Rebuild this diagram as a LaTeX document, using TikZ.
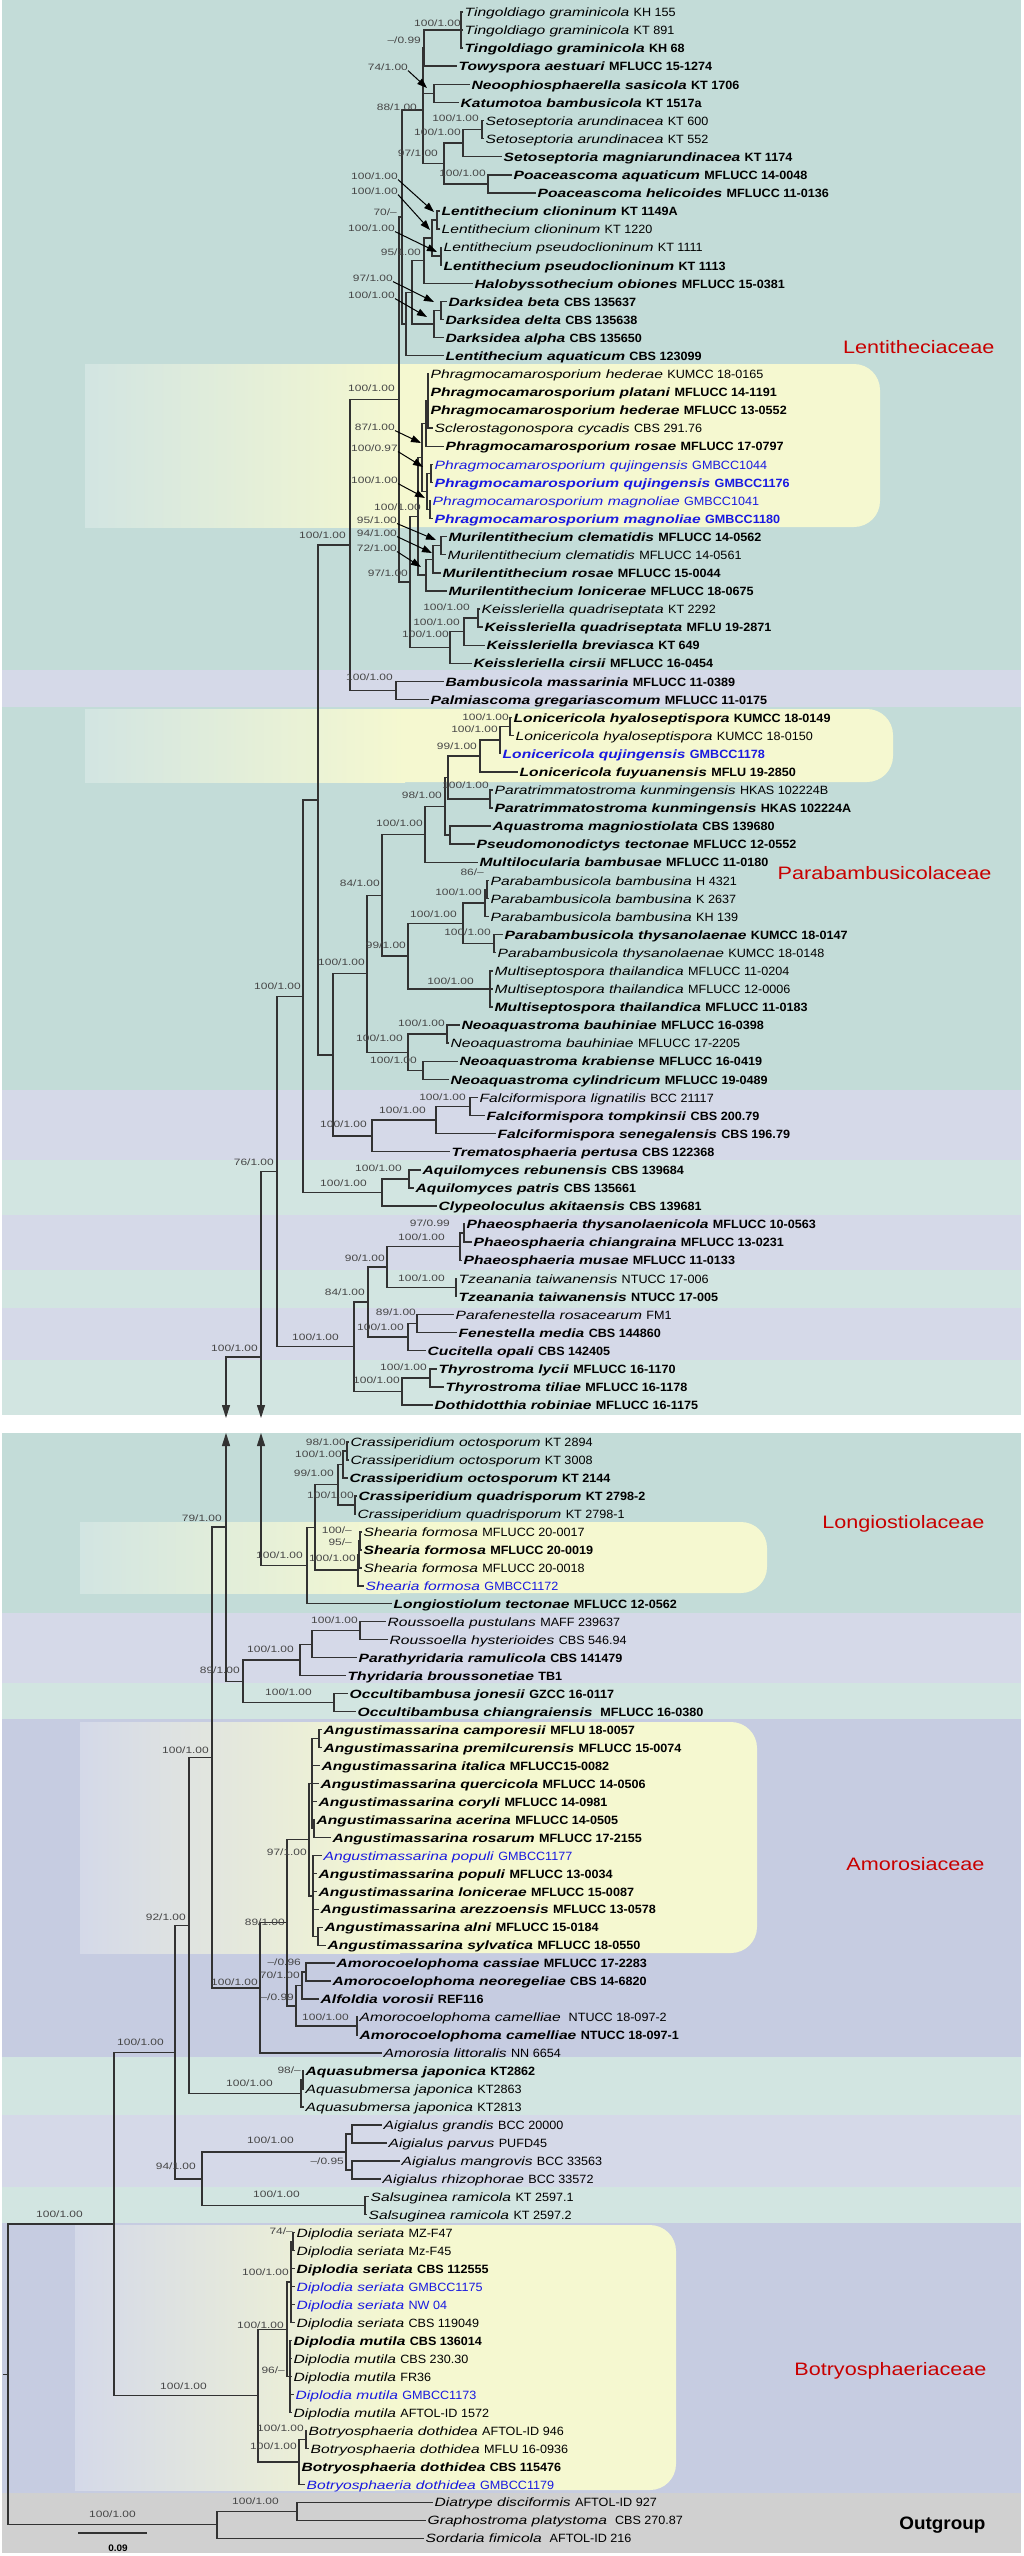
\documentclass[tikz,border=0pt]{standalone}
\usepackage{fontspec}
\setmainfont{Liberation Sans}[FakeStretch=1.3,ItalicFeatures={FakeStretch=1.3},
  BoldFeatures={FakeStretch=1.3},BoldItalicFeatures={FakeStretch=1.3}]
\newfontfamily\strfont{Liberation Sans}[FakeStretch=1.05,BoldFeatures={FakeStretch=1.05}]
\newfontfamily\famfont{Liberation Sans}[FakeStretch=1.2]
\usetikzlibrary{arrows.meta}
\definecolor{bgteal}{RGB}{195,220,216}
\definecolor{bglav}{RGB}{213,217,232}
\definecolor{bgpale}{RGB}{210,229,225}
\definecolor{bgamo}{RGB}{198,204,225}
\definecolor{bggrey}{RGB}{208,208,208}
\definecolor{boxyel}{RGB}{245,248,208}
\definecolor{brgrey}{RGB}{50,50,50}
\definecolor{bstext}{RGB}{70,70,70}
\definecolor{taxblue}{RGB}{25,25,225}
\definecolor{famred}{RGB}{200,0,0}
\newcommand{\tn}[2]{\textit{#1} {\strfont #2}}
\newcommand{\tb}[2]{\textbf{\textit{#1} {\strfont #2}}}
\begin{document}
\begin{tikzpicture}[x=1pt,y=-1pt,
    tx/.style={anchor=west,inner xsep=1.5pt,inner ysep=0pt,text height=11pt,text depth=1.6pt,font=\fontsize{12}{14}\selectfont},
    nw/.style={text=taxblue},
    bs/.style={anchor=east,inner sep=0pt,text=bstext,font=\fontsize{9.2}{10}\selectfont},
    br/.style={line width=1.4pt,draw=brgrey},
    lblarr/.style={line width=1pt,-{Triangle[length=10pt,width=7pt]}},
    gaparr/.style={line width=1.1pt,draw=brgrey,-{Triangle[length=13pt,width=8pt]}},
    fam/.style={anchor=east,text=famred,font=\famfont\fontsize{18}{20}\selectfont}]
  \useasboundingbox (0,0) rectangle (1023,2556);
  % bands
  \foreach \ya/\yb/\bg in {0/670/bgteal, 670/707/bglav, 707/1090/bgteal, 1090/1160/bglav,
      1160/1215/bgpale, 1215/1270/bglav, 1270/1308/bgpale, 1308/1360/bglav, 1360/1415/bgpale,
      1433/1613/bgteal, 1613/1683/bglav, 1683/1719/bgpale, 1719/2057/bgamo, 2057/2115/bgpale,
      2115/2187/bglav, 2187/2223/bgpale, 2223/2493/bgamo, 2493/2553/bggrey}
    \fill[\bg] (2,\ya) rectangle (1021,\yb);
  % highlight boxes
  \foreach \xa/\ya/\xb/\yb/\bg in {85/364/880/527/bgteal, 85/709/893/782/bgteal,
      80/1522/767/1593/bgteal, 80/1722/757/1953/bgamo, 75/2225/676/2490/bgamo} {
    \fill[boxyel, rounded corners=26pt] (\xa,\ya) rectangle (\xb,\yb);
    \fill[left color=\bg!75!white, right color=boxyel] (\xa,\ya) rectangle (\xa+320,\yb);
  }

  % taxa
  \node[tx] (t1) at (463,12) {\tn{Tingoldiago graminicola}{KH 155}};
  \node[tx] (t2) at (463,30) {\tn{Tingoldiago graminicola}{KT 891}};
  \node[tx] (t3) at (463,48) {\tb{Tingoldiago graminicola}{KH 68}};
  \node[tx] (t4) at (457,66) {\tb{Towyspora aestuari}{MFLUCC 15-1274}};
  \node[tx] (t5) at (470,84.4) {\tb{Neoophiosphaerella sasicola}{KT 1706}};
  \node[tx] (t6) at (459,102.5) {\tb{Katumotoa bambusicola}{KT 1517a}};
  \node[tx] (t7) at (484,120.5) {\tn{Setoseptoria arundinacea}{KT 600}};
  \node[tx] (t8) at (484,138.6) {\tn{Setoseptoria arundinacea}{KT 552}};
  \node[tx] (t9) at (502,156.7) {\tb{Setoseptoria magniarundinacea}{KT 1174}};
  \node[tx] (t10) at (512,174.8) {\tb{Poaceascoma aquaticum}{MFLUCC 14-0048}};
  \node[tx] (t11) at (536,192.9) {\tb{Poaceascoma helicoides}{MFLUCC 11-0136}};
  \node[tx] (t12) at (440,211) {\tb{Lentithecium clioninum}{KT 1149A}};
  \node[tx] (t13) at (440,229.1) {\tn{Lentithecium clioninum}{KT 1220}};
  \node[tx] (t14) at (442,247.2) {\tn{Lentithecium pseudoclioninum}{KT 1111}};
  \node[tx] (t15) at (442,265.3) {\tb{Lentithecium pseudoclioninum}{KT 1113}};
  \node[tx] (t16) at (473,283.4) {\tb{Halobyssothecium obiones}{MFLUCC 15-0381}};
  \node[tx] (t17) at (447,301.4) {\tb{Darksidea beta}{CBS 135637}};
  \node[tx] (t18) at (444,319.5) {\tb{Darksidea delta}{CBS 135638}};
  \node[tx] (t19) at (444,337.6) {\tb{Darksidea alpha}{CBS 135650}};
  \node[tx] (t20) at (444,355.7) {\tb{Lentithecium aquaticum}{CBS 123099}};
  \node[tx] (t21) at (429,373.8) {\tn{Phragmocamarosporium hederae}{KUMCC 18-0165}};
  \node[tx] (t22) at (429,391.9) {\tb{Phragmocamarosporium platani}{MFLUCC 14-1191}};
  \node[tx] (t23) at (429,410) {\tb{Phragmocamarosporium hederae}{MFLUCC 13-0552}};
  \node[tx] (t24) at (433,428.1) {\tn{Sclerostagonospora cycadis}{CBS 291.76}};
  \node[tx] (t25) at (444,446.2) {\tb{Phragmocamarosporium rosae}{MFLUCC 17-0797}};
  \node[tx,nw] (t26) at (433,464.3) {\tn{Phragmocamarosporium qujingensis}{GMBCC1044}};
  \node[tx,nw] (t27) at (433,482.3) {\tb{Phragmocamarosporium qujingensis}{GMBCC1176}};
  \node[tx,nw] (t28) at (431,500.4) {\tn{Phragmocamarosporium magnoliae}{GMBCC1041}};
  \node[tx,nw] (t29) at (433,518.5) {\tb{Phragmocamarosporium magnoliae}{GMBCC1180}};
  \node[tx] (t30) at (447,536.6) {\tb{Murilentithecium clematidis}{MFLUCC 14-0562}};
  \node[tx] (t31) at (446,554.7) {\tn{Murilentithecium clematidis}{MFLUCC 14-0561}};
  \node[tx] (t32) at (441,572.8) {\tb{Murilentithecium rosae}{MFLUCC 15-0044}};
  \node[tx] (t33) at (447,590.9) {\tb{Murilentithecium lonicerae}{MFLUCC 18-0675}};
  \node[tx] (t34) at (480,609) {\tn{Keissleriella quadriseptata}{KT 2292}};
  \node[tx] (t35) at (483,627.1) {\tb{Keissleriella quadriseptata}{MFLU 19-2871}};
  \node[tx] (t36) at (485,645.2) {\tb{Keissleriella breviasca}{KT 649}};
  \node[tx] (t37) at (472,663.2) {\tb{Keissleriella cirsii}{MFLUCC 16-0454}};
  \node[tx] (t38) at (444,681.3) {\tb{Bambusicola massarinia}{MFLUCC 11-0389}};
  \node[tx] (t39) at (429,699.4) {\tb{Palmiascoma gregariascomum}{MFLUCC 11-0175}};
  \node[tx] (t40) at (512,717.5) {\tb{Lonicericola hyaloseptispora}{KUMCC 18-0149}};
  \node[tx] (t41) at (514,735.6) {\tn{Lonicericola hyaloseptispora}{KUMCC 18-0150}};
  \node[tx,nw] (t42) at (501,753.7) {\tb{Lonicericola qujingensis}{GMBCC1178}};
  \node[tx] (t43) at (518,771.8) {\tb{Lonicericola fuyuanensis}{MFLU 19-2850}};
  \node[tx] (t44) at (493,789.9) {\tn{Paratrimmatostroma kunmingensis}{HKAS 102224B}};
  \node[tx] (t45) at (493,808) {\tb{Paratrimmatostroma kunmingensis}{HKAS 102224A}};
  \node[tx] (t46) at (491,826.1) {\tb{Aquastroma magniostiolata}{CBS 139680}};
  \node[tx] (t47) at (475,844.1) {\tb{Pseudomonodictys tectonae}{MFLUCC 12-0552}};
  \node[tx] (t48) at (478,862.2) {\tb{Multilocularia bambusae}{MFLUCC 11-0180}};
  \node[tx] (t49) at (489,880.3) {\tn{Parabambusicola bambusina}{H 4321}};
  \node[tx] (t50) at (489,898.4) {\tn{Parabambusicola bambusina}{K 2637}};
  \node[tx] (t51) at (489,916.5) {\tn{Parabambusicola bambusina}{KH 139}};
  \node[tx] (t52) at (503,934.6) {\tb{Parabambusicola thysanolaenae}{KUMCC 18-0147}};
  \node[tx] (t53) at (496,952.7) {\tn{Parabambusicola thysanolaenae}{KUMCC 18-0148}};
  \node[tx] (t54) at (493,970.8) {\tn{Multiseptospora thailandica}{MFLUCC 11-0204}};
  \node[tx] (t55) at (493,988.9) {\tn{Multiseptospora thailandica}{MFLUCC 12-0006}};
  \node[tx] (t56) at (493,1007) {\tb{Multiseptospora thailandica}{MFLUCC 11-0183}};
  \node[tx] (t57) at (460,1025) {\tb{Neoaquastroma bauhiniae}{MFLUCC 16-0398}};
  \node[tx] (t58) at (449,1043.1) {\tn{Neoaquastroma bauhiniae}{MFLUCC 17-2205}};
  \node[tx] (t59) at (458,1061.2) {\tb{Neoaquastroma krabiense}{MFLUCC 16-0419}};
  \node[tx] (t60) at (449,1079.3) {\tb{Neoaquastroma cylindricum}{MFLUCC 19-0489}};
  \node[tx] (t61) at (478,1097.4) {\tn{Falciformispora lignatilis}{BCC 21117}};
  \node[tx] (t62) at (485,1115.5) {\tb{Falciformispora tompkinsii}{CBS 200.79}};
  \node[tx] (t63) at (496,1133.6) {\tb{Falciformispora senegalensis}{CBS 196.79}};
  \node[tx] (t64) at (450,1151.7) {\tb{Trematosphaeria pertusa}{CBS 122368}};
  \node[tx] (t65) at (421,1169.8) {\tb{Aquilomyces rebunensis}{CBS 139684}};
  \node[tx] (t66) at (414,1187.9) {\tb{Aquilomyces patris}{CBS 135661}};
  \node[tx] (t67) at (437,1205.9) {\tb{Clypeoloculus akitaensis}{CBS 139681}};
  \node[tx] (t68) at (465,1224) {\tb{Phaeosphaeria thysanolaenicola}{MFLUCC 10-0563}};
  \node[tx] (t69) at (472,1242.1) {\tb{Phaeosphaeria chiangraina}{MFLUCC 13-0231}};
  \node[tx] (t70) at (462,1260.2) {\tb{Phaeosphaeria musae}{MFLUCC 11-0133}};
  \node[tx] (t71) at (457,1278.3) {\tn{Tzeanania taiwanensis}{NTUCC 17-006}};
  \node[tx] (t72) at (457,1296.4) {\tb{Tzeanania taiwanensis}{NTUCC 17-005}};
  \node[tx] (t73) at (454,1314.5) {\tn{Parafenestella rosacearum}{FM1}};
  \node[tx] (t74) at (457,1332.6) {\tb{Fenestella media}{CBS 144860}};
  \node[tx] (t75) at (426,1350.7) {\tb{Cucitella opali}{CBS 142405}};
  \node[tx] (t76) at (437,1368.8) {\tb{Thyrostroma lycii}{MFLUCC 16-1170}};
  \node[tx] (t77) at (444,1386.8) {\tb{Thyrostroma tiliae}{MFLUCC 16-1178}};
  \node[tx] (t78) at (433,1404.9) {\tb{Dothidotthia robiniae}{MFLUCC 16-1175}};
  \node[tx] (t79) at (349,1442) {\tn{Crassiperidium octosporum}{KT 2894}};
  \node[tx] (t80) at (349,1460) {\tn{Crassiperidium octosporum}{KT 3008}};
  \node[tx] (t81) at (348,1477.9) {\tb{Crassiperidium octosporum}{KT 2144}};
  \node[tx] (t82) at (357,1495.9) {\tb{Crassiperidium quadrisporum}{KT 2798-2}};
  \node[tx] (t83) at (356,1513.9) {\tn{Crassiperidium quadrisporum}{KT 2798-1}};
  \node[tx] (t84) at (362,1531.9) {\tn{Shearia formosa}{MFLUCC 20-0017}};
  \node[tx] (t85) at (362,1549.8) {\tb{Shearia formosa}{MFLUCC 20-0019}};
  \node[tx] (t86) at (362,1567.8) {\tn{Shearia formosa}{MFLUCC 20-0018}};
  \node[tx,nw] (t87) at (364,1585.8) {\tn{Shearia formosa}{GMBCC1172}};
  \node[tx] (t88) at (392,1603.7) {\tb{Longiostiolum tectonae}{MFLUCC 12-0562}};
  \node[tx] (t89) at (386,1621.7) {\tn{Roussoella pustulans}{MAFF 239637}};
  \node[tx] (t90) at (388,1639.7) {\tn{Roussoella hysterioides}{CBS 546.94}};
  \node[tx] (t91) at (357,1657.6) {\tb{Parathyridaria ramulicola}{CBS 141479}};
  \node[tx] (t92) at (346,1675.6) {\tb{Thyridaria broussonetiae}{TB1}};
  \node[tx] (t93) at (348,1693.6) {\tb{Occultibambusa jonesii}{GZCC 16-0117}};
  \node[tx] (t94) at (356,1711.6) {\tb{Occultibambusa chiangraiensis}{\ MFLUCC 16-0380}};
  \node[tx] (t95) at (322,1729.5) {\tb{Angustimassarina camporesii}{MFLU 18-0057}};
  \node[tx] (t96) at (322,1747.5) {\tb{Angustimassarina premilcurensis}{MFLUCC 15-0074}};
  \node[tx] (t97) at (320,1765.5) {\tb{Angustimassarina italica}{MFLUCC15-0082}};
  \node[tx] (t98) at (319,1783.4) {\tb{Angustimassarina quercicola}{MFLUCC 14-0506}};
  \node[tx] (t99) at (317,1801.4) {\tb{Angustimassarina coryli}{MFLUCC 14-0981}};
  \node[tx] (t100) at (315,1819.4) {\tb{Angustimassarina acerina}{MFLUCC 14-0505}};
  \node[tx] (t101) at (331,1837.3) {\tb{Angustimassarina rosarum}{MFLUCC 17-2155}};
  \node[tx,nw] (t102) at (322,1855.3) {\tn{Angustimassarina populi}{GMBCC1177}};
  \node[tx] (t103) at (317,1873.3) {\tb{Angustimassarina populi}{MFLUCC 13-0034}};
  \node[tx] (t104) at (317,1891.3) {\tb{Angustimassarina lonicerae}{MFLUCC 15-0087}};
  \node[tx] (t105) at (319,1909.2) {\tb{Angustimassarina arezzoensis}{MFLUCC 13-0578}};
  \node[tx] (t106) at (323,1927.2) {\tb{Angustimassarina alni}{MFLUCC 15-0184}};
  \node[tx] (t107) at (326,1945.2) {\tb{Angustimassarina sylvatica}{MFLUCC 18-0550}};
  \node[tx] (t108) at (335,1963.1) {\tb{Amorocoelophoma cassiae}{MFLUCC 17-2283}};
  \node[tx] (t109) at (331,1981.1) {\tb{Amorocoelophoma neoregeliae}{CBS 14-6820}};
  \node[tx] (t110) at (319,1999.1) {\tb{Alfoldia vorosii}{REF116}};
  \node[tx] (t111) at (358,2017) {\tn{Amorocoelophoma camelliae}{\ NTUCC 18-097-2}};
  \node[tx] (t112) at (358,2035) {\tb{Amorocoelophoma camelliae}{NTUCC 18-097-1}};
  \node[tx] (t113) at (382,2053) {\tn{Amorosia littoralis}{NN 6654}};
  \node[tx] (t114) at (304,2071) {\tb{Aquasubmersa japonica}{KT2862}};
  \node[tx] (t115) at (304,2088.9) {\tn{Aquasubmersa japonica}{KT2863}};
  \node[tx] (t116) at (304,2106.9) {\tn{Aquasubmersa japonica}{KT2813}};
  \node[tx] (t117) at (382,2124.9) {\tn{Aigialus grandis}{BCC 20000}};
  \node[tx] (t118) at (387,2142.8) {\tn{Aigialus parvus}{PUFD45}};
  \node[tx] (t119) at (400,2160.8) {\tn{Aigialus mangrovis}{BCC 33563}};
  \node[tx] (t120) at (381,2178.8) {\tn{Aigialus rhizophorae}{BCC 33572}};
  \node[tx] (t121) at (369,2196.7) {\tn{Salsuginea ramicola}{KT 2597.1}};
  \node[tx] (t122) at (367,2214.7) {\tn{Salsuginea ramicola}{KT 2597.2}};
  \node[tx] (t123) at (295,2232.7) {\tn{Diplodia seriata}{MZ-F47}};
  \node[tx] (t124) at (295,2250.7) {\tn{Diplodia seriata}{Mz-F45}};
  \node[tx] (t125) at (295,2268.6) {\tb{Diplodia seriata}{CBS 112555}};
  \node[tx,nw] (t126) at (295,2286.6) {\tn{Diplodia seriata}{GMBCC1175}};
  \node[tx,nw] (t127) at (295,2304.6) {\tn{Diplodia seriata}{NW 04}};
  \node[tx] (t128) at (295,2322.5) {\tn{Diplodia seriata}{CBS 119049}};
  \node[tx] (t129) at (292,2340.5) {\tb{Diplodia mutila}{CBS 136014}};
  \node[tx] (t130) at (292,2358.5) {\tn{Diplodia mutila}{CBS 230.30}};
  \node[tx] (t131) at (292,2376.4) {\tn{Diplodia mutila}{FR36}};
  \node[tx,nw] (t132) at (294,2394.4) {\tn{Diplodia mutila}{GMBCC1173}};
  \node[tx] (t133) at (292,2412.4) {\tn{Diplodia mutila}{AFTOL-ID 1572}};
  \node[tx] (t134) at (307,2430.4) {\tn{Botryosphaeria dothidea}{AFTOL-ID 946}};
  \node[tx] (t135) at (309,2448.3) {\tn{Botryosphaeria dothidea}{MFLU 16-0936}};
  \node[tx] (t136) at (300,2466.3) {\tb{Botryosphaeria dothidea}{CBS 115476}};
  \node[tx,nw] (t137) at (305,2484.3) {\tn{Botryosphaeria dothidea}{GMBCC1179}};
  \node[tx] (t138) at (433,2502.2) {\tn{Diatrype disciformis}{AFTOL-ID 927}};
  \node[tx] (t139) at (426,2520.2) {\tn{Graphostroma platystoma}{\ CBS 270.87}};
  \node[tx] (t140) at (424,2538.2) {\tn{Sordaria fimicola}{\ AFTOL-ID 216}};

  % internal nodes, upper part
  \coordinate (nTin) at (461,30);      \coordinate (nB) at (424,48);
  \coordinate (nC) at (434,93.5);      \coordinate (nSetA) at (482,129.5);
  \coordinate (nSet) at (463,143);     \coordinate (nPoa) at (488,184);
  \coordinate (n97a) at (444,163.5);   \coordinate (n88) at (423,110);
  \coordinate (nCli) at (437,220);     \coordinate (nPse) at (441,256);
  \coordinate (nLen) at (432,238);     \coordinate (n95) at (424,260.7);
  \coordinate (nDbd) at (441,310.5);   \coordinate (nDar) at (434,324);
  \coordinate (nX1) at (412,292.4);    \coordinate (nX2) at (406,324);
  \coordinate (nX3) at (402,217);      \coordinate (nPh1) at (428,401);
  \coordinate (nPh2) at (426,423.7);   \coordinate (nQuj) at (431,473.3);
  \coordinate (nMag) at (430,509.5);   \coordinate (nPh3) at (427,491.4);
  \coordinate (nPhr) at (422,457.5);   \coordinate (nM1) at (441,545.7);
  \coordinate (nM2) at (433,559.2);    \coordinate (nM3) at (426,575);
  \coordinate (nPM) at (418,516.3);    \coordinate (nK1) at (478,618);
  \coordinate (nK2) at (464,631.6);    \coordinate (nK3) at (450,647.4);
  \coordinate (n97b) at (410,581.9);   \coordinate (nLenAll) at (399,399.4);
  \coordinate (nBam) at (396,690.4);   \coordinate (n350) at (350,544.9);
  \coordinate (nLon1) at (510,726.5);  \coordinate (nLon2) at (500,740.1);
  \coordinate (n99a) at (480,756);     \coordinate (nPt) at (490,799);
  \coordinate (nLP) at (448,777.5);    \coordinate (nAqm) at (450,835.1);
  \coordinate (n98) at (445,806.3);    \coordinate (nC1) at (425,834.3);
  \coordinate (nBb1) at (487,889.4);   \coordinate (nBb) at (485,903);
  \coordinate (nThy) at (494,943.7);   \coordinate (nPbt) at (463,923.4);
  \coordinate (nMul) at (490,988.9);   \coordinate (n99b) at (408,956.1);
  \coordinate (n84a) at (382,895.2);   \coordinate (nNb) at (447,1034.1);
  \coordinate (nNk) at (423,1070.3);   \coordinate (nNeo) at (408,1052.2);
  \coordinate (n367) at (367,973.7);   \coordinate (nF1) at (470,1106.5);
  \coordinate (nF2) at (436,1120);     \coordinate (nFal) at (372,1135.9);
  \coordinate (n333) at (333,1054.8);  \coordinate (n318) at (318,799.9);
  \coordinate (nAq1) at (409,1178.9);  \coordinate (nAqu) at (382,1192.4);
  \coordinate (n303) at (303,996.2);   \coordinate (nPhA) at (464,1233);
  \coordinate (nPhB) at (460,1246.6);  \coordinate (nTz) at (456,1287.4);
  \coordinate (n90) at (387,1267);     \coordinate (nFen1) at (417,1323.6);
  \coordinate (nFen) at (408,1337.1);  \coordinate (n84b) at (368,1302);
  \coordinate (nT1) at (430,1377.8);   \coordinate (nThyr) at (402,1391.4);
  \coordinate (nPhaeo) at (354,1346.7); \coordinate (n76) at (277,1171.5);
  \coordinate (n261) at (261,1357);
  \coordinate (g261u) at (261,1418);   \coordinate (g79u) at (226,1418);
  \coordinate (g261d) at (261,1433);   \coordinate (g79d) at (226,1433);
  % internal nodes, lower part
  \coordinate (nCr1) at (347,1451);    \coordinate (nCr2) at (343,1464.5);
  \coordinate (nCq) at (355,1504.9);   \coordinate (nCr) at (338,1484.7);
  \coordinate (nSh1) at (360,1540.9);  \coordinate (nSh2) at (359,1554.3);
  \coordinate (nSh) at (358,1570);     \coordinate (nCs) at (315,1527.4);
  \coordinate (nLong) at (307,1565.5); \coordinate (nRou) at (360,1630.7);
  \coordinate (nRp) at (312,1644.2);   \coordinate (nRt) at (300,1659.9);
  \coordinate (nOcc) at (334,1702.6);  \coordinate (n89a) at (243,1681.3);
  \coordinate (n79) at (226,1527);     \coordinate (nAngA1) at (319,1738.5);
  \coordinate (nAngA2) at (314,1828.4); \coordinate (nAngA) at (312,1783.4);
  \coordinate (nAngB2) at (318,1936.2); \coordinate (nAngB) at (313,1895.8);
  \coordinate (nAng) at (309,1839.6);  \coordinate (nC1a) at (306,1972.1);
  \coordinate (nC2) at (302,1985.6);   \coordinate (nCam) at (357,2026);
  \coordinate (nC3) at (296,2005.8);   \coordinate (n89b) at (287,1922.7);
  \coordinate (nAmo) at (260,1987.9);  \coordinate (n212) at (212,1757.5);
  \coordinate (nAqs1) at (303,2080);   \coordinate (nAqs) at (301,2093.4);
  \coordinate (n92) at (189,1925.5);   \coordinate (nAi1) at (352,2133.9);
  \coordinate (nAi2) at (352,2169.8);  \coordinate (nAig) at (346,2151.9);
  \coordinate (nSal) at (365,2205.7);  \coordinate (n94) at (202,2178.8);
  \coordinate (n175) at (175,2052.2);  \coordinate (nSer1) at (293,2241.7);
  \coordinate (nSer) at (291,2282.1);  \coordinate (nMut) at (290,2376.5);
  \coordinate (nDm) at (287,2329.3);   \coordinate (nBd1) at (306,2439.4);
  \coordinate (nBd) at (299,2461.9);   \coordinate (nBot) at (258,2395.6);
  \coordinate (n114) at (114,2223.9);  \coordinate (nO1) at (297,2511.2);
  \coordinate (nOut) at (217,2524.7);  \coordinate (nRoot) at (8,2374.3);
  \coordinate (rootstub) at (3,2374.3);

  % branches
  \begin{scope}[br]
    \foreach \p/\c in {nTin/t1, nTin/t2, nTin/t3, nB/nTin, nB/t4, nC/t5, nC/t6,
        nSetA/t7, nSetA/t8, nSet/nSetA, nSet/t9, nPoa/t10, nPoa/t11, n97a/nSet, n97a/nPoa,
        n88/nB, n88/nC, n88/n97a, nCli/t12, nCli/t13, nPse/t14, nPse/t15, nLen/nCli, nLen/nPse,
        n95/nLen, n95/t16, nDbd/t17, nDbd/t18, nDar/nDbd, nDar/t19, nX1/n95, nX1/nDar,
        nX2/nX1, nX2/t20, nX3/n88, nX3/nX2, nPh1/t21, nPh1/t22, nPh1/t23, nPh1/t24,
        nPh2/nPh1, nPh2/t25, nQuj/t26, nQuj/t27, nMag/t28, nMag/t29, nPh3/nQuj, nPh3/nMag,
        nPhr/nPh2, nPhr/nPh3, nM1/t30, nM1/t31, nM2/nM1, nM2/t32, nM3/nM2, nM3/t33,
        nPM/nPhr, nPM/nM3, nK1/t34, nK1/t35, nK2/nK1, nK2/t36, nK3/nK2, nK3/t37,
        n97b/nPM, n97b/nK3, nLenAll/nX3, nLenAll/n97b, nBam/t38, nBam/t39,
        n350/nLenAll, n350/nBam, nLon1/t40, nLon1/t41, nLon2/nLon1, nLon2/t42,
        n99a/nLon2, n99a/t43, nPt/t44, nPt/t45, nLP/n99a, nLP/nPt, nAqm/t46, nAqm/t47,
        n98/nLP, n98/nAqm, nC1/n98, nC1/t48, nBb1/t49, nBb1/t50, nBb/nBb1, nBb/t51,
        nThy/t52, nThy/t53, nPbt/nBb, nPbt/nThy, nMul/t54, nMul/t55, nMul/t56,
        n99b/nPbt, n99b/nMul, n84a/nC1, n84a/n99b, nNb/t57, nNb/t58, nNk/t59, nNk/t60,
        nNeo/nNb, nNeo/nNk, n367/n84a, n367/nNeo, nF1/t61, nF1/t62, nF2/nF1, nF2/t63,
        nFal/nF2, nFal/t64, n333/n367, n333/nFal, n318/n350, n318/n333,
        nAq1/t65, nAq1/t66, nAqu/nAq1, nAqu/t67, n303/n318, n303/nAqu,
        nPhA/t68, nPhA/t69, nPhB/nPhA, nPhB/t70, nTz/t71, nTz/t72, n90/nPhB, n90/nTz,
        nFen1/t73, nFen1/t74, nFen/nFen1, nFen/t75, n84b/n90, n84b/nFen,
        nT1/t76, nT1/t77, nThyr/nT1, nThyr/t78, nPhaeo/n84b, nPhaeo/nThyr,
        n76/n303, n76/nPhaeo, n261/n76}
      \draw (\p) |- (\c);
    \foreach \p/\c in {nCr1/t79, nCr1/t80, nCr2/nCr1, nCr2/t81, nCq/t82, nCq/t83, nCr/nCr2, nCr/nCq,
        nSh1/t84, nSh1/t85, nSh2/nSh1, nSh2/t86, nSh/nSh2, nSh/t87, nCs/nCr, nCs/nSh,
        nLong/nCs, nLong/t88, nRou/t89, nRou/t90, nRp/nRou, nRp/t91, nRt/nRp, nRt/t92,
        nOcc/t93, nOcc/t94, n89a/nRt, n89a/nOcc,
        nAngA1/t95, nAngA1/t96, nAngA/nAngA1, nAngA/t97, nAngA/t98, nAngA/t99, nAngA/nAngA2,
        nAngA2/t100, nAngA2/t101, nAngB/t102, nAngB/t103, nAngB/t104, nAngB/t105, nAngB/nAngB2,
        nAngB2/t106, nAngB2/t107, nAng/nAngA, nAng/nAngB,
        nC1a/t108, nC1a/t109, nC2/nC1a, nC2/t110, nCam/t111, nCam/t112, nC3/nC2, nC3/nCam,
        n89b/nAng, n89b/nC3, nAmo/n89b, nAmo/t113, n212/n79, n212/nAmo,
        nAqs1/t114, nAqs1/t115, nAqs/nAqs1, nAqs/t116, n92/n212, n92/nAqs,
        nAi1/t117, nAi1/t118, nAi2/t119, nAi2/t120, nAig/nAi1, nAig/nAi2,
        nSal/t121, nSal/t122, n94/nAig, n94/nSal, n175/n92, n175/n94,
        nSer1/t123, nSer1/t124, nSer/nSer1, nSer/t125, nSer/t126, nSer/t127, nSer/t128,
        nMut/t129, nMut/t130, nMut/t131, nMut/t132, nMut/t133, nDm/nSer, nDm/nMut,
        nBd1/t134, nBd1/t135, nBd/nBd1, nBd/t136, nBd/t137, nBot/nDm, nBot/nBd,
        n114/n175, n114/nBot, nO1/t138, nO1/t139, nOut/nO1, nOut/t140,
        nRoot/n114, nRoot/nOut}
      \draw (\p) |- (\c);
    \draw (nRoot) -- (rootstub);
  \end{scope}
  % the tree continues across the gap
  \draw[gaparr] (n261) -- (g261u);
  \draw[gaparr] (n261) -| (g79u);
  \draw[gaparr] (nLong) -| (g261d);
  \draw[gaparr] (n89a) -| (g79d);

  % support values
  \node[bs] (s1) at (461,23) {100/1.00};
  \node[bs] (s2) at (421,40) {--/0.99};
  \node[bs] (s3) at (408,67) {74/1.00};
  \node[bs] (s4) at (417,107) {88/1.00};
  \node[bs] (s5) at (479,118) {100/1.00};
  \node[bs] (s6) at (461,132) {100/1.00};
  \node[bs] (s7) at (438,153) {97/1.00};
  \node[bs] (s8) at (486,173) {100/1.00};
  \node[bs] (s9) at (398,176) {100/1.00};
  \node[bs] (s10) at (398,191) {100/1.00};
  \node[bs] (s11) at (397,212) {70/--};
  \node[bs] (s12) at (395,228) {100/1.00};
  \node[bs] (s13) at (421,252) {95/1.00};
  \node[bs] (s14) at (393,278) {97/1.00};
  \node[bs] (s15) at (395,295) {100/1.00};
  \node[bs] (s16) at (395,388) {100/1.00};
  \node[bs] (s17) at (395,427) {87/1.00};
  \node[bs] (s18) at (398,448) {100/0.97};
  \node[bs] (s19) at (398,480) {100/1.00};
  \node[bs] (s20) at (421,507) {100/1.00};
  \node[bs] (s21) at (397,520) {95/1.00};
  \node[bs] (s22) at (346,535) {100/1.00};
  \node[bs] (s23) at (397,533) {94/1.00};
  \node[bs] (s24) at (397,548) {72/1.00};
  \node[bs] (s25) at (408,573) {97/1.00};
  \node[bs] (s26) at (470,607) {100/1.00};
  \node[bs] (s27) at (460,622) {100/1.00};
  \node[bs] (s28) at (449,634) {100/1.00};
  \node[bs] (s29) at (393,677) {100/1.00};
  \node[bs] (s30) at (509,717) {100/1.00};
  \node[bs] (s31) at (498,729) {100/1.00};
  \node[bs] (s32) at (477,746) {99/1.00};
  \node[bs] (s33) at (489,785) {100/1.00};
  \node[bs] (s34) at (442,795) {98/1.00};
  \node[bs] (s35) at (423,823) {100/1.00};
  \node[bs] (s36) at (484,872) {86/--};
  \node[bs] (s37) at (380,883) {84/1.00};
  \node[bs] (s38) at (482,892) {100/1.00};
  \node[bs] (s39) at (457,914) {100/1.00};
  \node[bs] (s40) at (491,932) {100/1.00};
  \node[bs] (s41) at (406,945) {99/1.00};
  \node[bs] (s42) at (365,962) {100/1.00};
  \node[bs] (s43) at (474,981) {100/1.00};
  \node[bs] (s44) at (301,986) {100/1.00};
  \node[bs] (s45) at (445,1023) {100/1.00};
  \node[bs] (s46) at (403,1038) {100/1.00};
  \node[bs] (s47) at (417,1060) {100/1.00};
  \node[bs] (s48) at (466,1097) {100/1.00};
  \node[bs] (s49) at (426,1110) {100/1.00};
  \node[bs] (s50) at (367,1124) {100/1.00};
  \node[bs] (s51) at (274,1162) {76/1.00};
  \node[bs] (s52) at (402,1168) {100/1.00};
  \node[bs] (s53) at (367,1183) {100/1.00};
  \node[bs] (s54) at (450,1223) {97/0.99};
  \node[bs] (s55) at (445,1237) {100/1.00};
  \node[bs] (s56) at (385,1258) {90/1.00};
  \node[bs] (s57) at (445,1278) {100/1.00};
  \node[bs] (s58) at (365,1292) {84/1.00};
  \node[bs] (s59) at (416,1312) {89/1.00};
  \node[bs] (s60) at (404,1327) {100/1.00};
  \node[bs] (s61) at (339,1337) {100/1.00};
  \node[bs] (s62) at (258,1348) {100/1.00};
  \node[bs] (s63) at (427,1367) {100/1.00};
  \node[bs] (s64) at (400,1380) {100/1.00};
  \node[bs] (s65) at (346,1442) {98/1.00};
  \node[bs] (s66) at (342,1454) {100/1.00};
  \node[bs] (s67) at (334,1473) {99/1.00};
  \node[bs] (s68) at (354,1495) {100/1.00};
  \node[bs] (s69) at (222,1518) {79/1.00};
  \node[bs] (s70) at (352,1530) {100/--};
  \node[bs] (s71) at (352,1542) {95/--};
  \node[bs] (s72) at (303,1555) {100/1.00};
  \node[bs] (s73) at (356,1558) {100/1.00};
  \node[bs] (s74) at (358,1620) {100/1.00};
  \node[bs] (s75) at (294,1649) {100/1.00};
  \node[bs] (s76) at (240,1670) {89/1.00};
  \node[bs] (s77) at (312,1692) {100/1.00};
  \node[bs] (s78) at (209,1750) {100/1.00};
  \node[bs] (s79) at (307,1852) {97/1.00};
  \node[bs] (s80) at (186,1917) {92/1.00};
  \node[bs] (s81) at (285,1922) {89/1.00};
  \node[bs] (s82) at (301,1962) {--/0.96};
  \node[bs] (s83) at (300,1975) {70/1.00};
  \node[bs] (s84) at (258,1982) {100/1.00};
  \node[bs] (s85) at (294,1997) {--/0.99};
  \node[bs] (s86) at (349,2017) {100/1.00};
  \node[bs] (s87) at (164,2042) {100/1.00};
  \node[bs] (s88) at (301,2070) {98/--};
  \node[bs] (s89) at (273,2083) {100/1.00};
  \node[bs] (s90) at (294,2140) {100/1.00};
  \node[bs] (s91) at (344,2161) {--/0.95};
  \node[bs] (s92) at (196,2166) {94/1.00};
  \node[bs] (s93) at (300,2194) {100/1.00};
  \node[bs] (s94) at (83,2214) {100/1.00};
  \node[bs] (s95) at (293,2231) {74/--};
  \node[bs] (s96) at (289,2272) {100/1.00};
  \node[bs] (s97) at (284,2325) {100/1.00};
  \node[bs] (s98) at (285,2370) {96/--};
  \node[bs] (s99) at (207,2386) {100/1.00};
  \node[bs] (s100) at (304,2428) {100/1.00};
  \node[bs] (s101) at (297,2446) {100/1.00};
  \node[bs] (s102) at (279,2501) {100/1.00};
  \node[bs] (s103) at (136,2514) {100/1.00};

  % arrows from support values to short branches
  \coordinate (s3t) at (427,88);   \coordinate (s9t) at (434,212);
  \coordinate (s10t) at (430,230); \coordinate (s12t) at (437,252);
  \coordinate (s14t) at (434,302); \coordinate (s15t) at (427,317);
  \coordinate (s17t) at (421,443); \coordinate (s18t) at (423,467);
  \coordinate (s19t) at (425,498); \coordinate (s21t) at (436,540);
  \coordinate (s23t) at (432,553); \coordinate (s24t) at (421,567);
  \foreach \s in {s3,s9,s10,s12,s14,s15,s17,s18,s19,s21,s23,s24}
    \draw[lblarr] (\s.south east) -- (\s t);

  % families
  \node[fam] (f1) at (998,347) {Lentitheciaceae};
  \node[fam] (f2) at (995,873) {Parabambusicolaceae};
  \node[fam] (f3) at (988,1524) {Longiostiolaceae};
  \node[fam] (f4) at (988,1864) {Amorosiaceae};
  \node[fam] (f5) at (990,2371) {Botryosphaeriaceae};
  \node[fam,text=black,font=\strfont\bfseries\fontsize{18}{20}\selectfont] (f6) at (989,2525) {Outgroup};

  % scale bar
  \coordinate (sbL) at (78,2533);
  \coordinate (sbR) at (147,2533);
  \draw[line width=1.8pt,brgrey] (sbL) -- (sbR);
  \node[inner sep=0pt,font=\strfont\bfseries\fontsize{9.5}{10}\selectfont] (sbl) at (118,2548) {0.09};
\end{tikzpicture}
\end{document}
